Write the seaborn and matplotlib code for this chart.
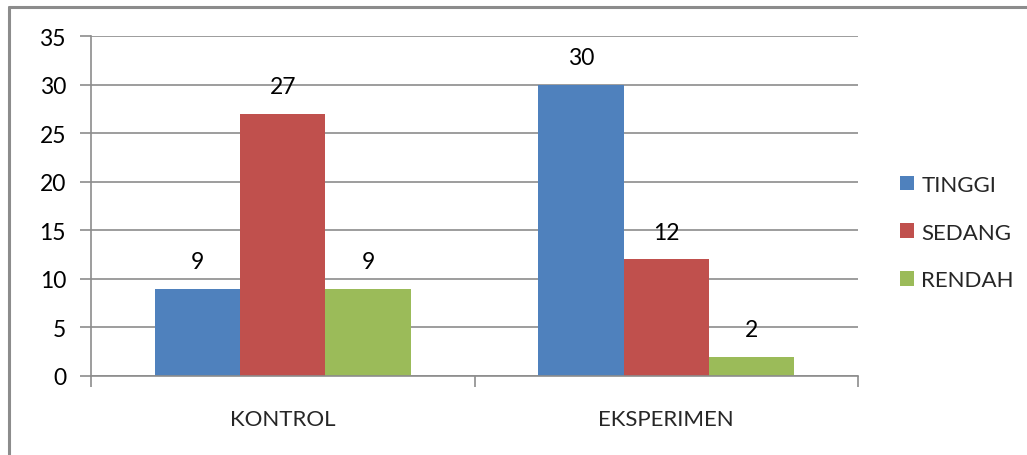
import matplotlib
matplotlib.use("Agg")
import matplotlib.pyplot as plt
import seaborn as sns
import pandas as pd
from matplotlib.lines import Line2D
from matplotlib.patches import Patch

groups = ["KONTROL", "EKSPERIMEN"]
levels = ["TINGGI", "SEDANG", "RENDAH"]
tinggi = [9, 30]
sedang = [27, 12]
rendah = [9, 2]
colors = ["#4F81BD", "#C0504D", "#9BBB59"]

rows = []
for lvl, vals in zip(levels, [tinggi, sedang, rendah]):
    for g, v in zip(groups, vals):
        rows.append({"group": g, "level": lvl, "value": v})
df = pd.DataFrame(rows)

sns.set_theme(style="white")
plt.rcParams['font.family'] = ['Lato', 'DejaVu Sans']

fig = plt.figure(figsize=(10.27, 4.56), dpi=100)
ax = fig.add_axes([91/1027, 1-377/456, (858-91)/1027, (377-37)/456])

sns.barplot(data=df, x="group", y="value", hue="level", order=groups,
            hue_order=levels, palette=colors, width=0.667, saturation=1,
            ax=ax, legend=False, edgecolor="none", linewidth=0)

ax.set_xlim(-0.5, 1.5)
ax.set_ylim(0, 35)
ax.set_yticks(range(0, 36, 5))
ax.yaxis.grid(True, color="#8C8C8C", linewidth=1.2)
ax.set_axisbelow(True)
for s in ["top", "right"]:
    ax.spines[s].set_visible(False)
ax.spines["left"].set_color("#8C8C8C")
ax.spines["bottom"].set_color("#8C8C8C")
ax.spines["left"].set_linewidth(1.2)
ax.spines["bottom"].set_linewidth(1.2)
ax.set_xlabel("")
ax.set_ylabel("")

ax.tick_params(axis="y", which="major", length=8, width=1.2, color="#8C8C8C",
               labelsize=16.5, pad=10, left=True)
ax.set_xticks([0, 1])
ax.set_xticklabels(groups, fontsize=16)
ax.tick_params(axis="x", which="major", length=0, pad=24)
ax.set_xticks([-0.5, 0.5, 1.5], minor=True)
ax.tick_params(axis="x", which="minor", length=8, width=1.2, color="#8C8C8C", bottom=True)
for lbl in ax.get_yticklabels():
    lbl.set_color("black")

for c in ax.containers:
    ax.bar_label(c, fontsize=16.5, padding=12, color="black")

handles = [Patch(facecolor=col, edgecolor="none", label=l) for col, l in zip(colors, levels)]
fig.legend(handles=handles, loc="center left", bbox_to_anchor=(900/1027, 1-233.5/456),
           frameon=False, fontsize=16, handlelength=0.64, handleheight=0.64,
           handletextpad=0.32, labelspacing=1.25, borderaxespad=0, borderpad=0)

fig.add_artist(Line2D([9/1027, 9/1027], [0, 1-8/456], color="#8C8C8C", linewidth=2.2,
                      transform=fig.transFigure))
fig.add_artist(Line2D([9/1027, 1], [1-8/456, 1-8/456], color="#8C8C8C", linewidth=2.2,
                      transform=fig.transFigure))

fig.savefig("out.png", dpi=100)
